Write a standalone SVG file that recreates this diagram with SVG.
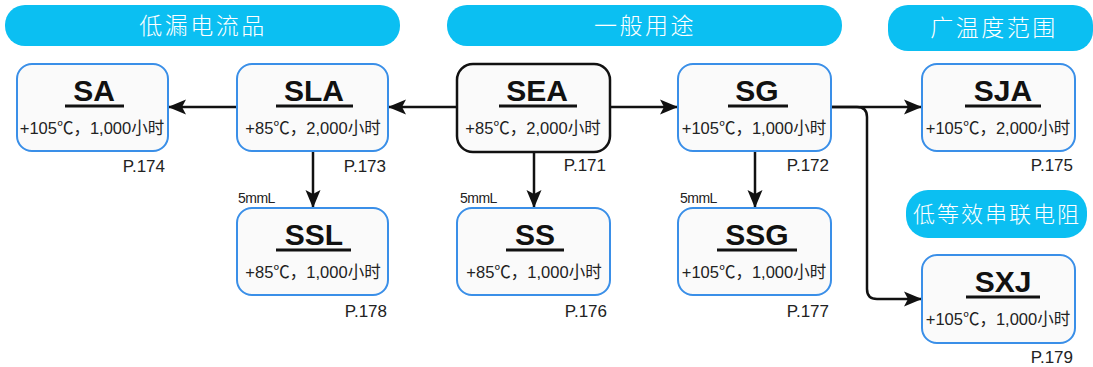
<svg xmlns="http://www.w3.org/2000/svg" width="1093" height="367" viewBox="0 0 1093 367">
<style>
.banner{fill:#0bbff2}
.btxt{fill:#fff;font-family:"Noto Sans CJK SC",sans-serif;font-weight:300;font-size:23px;letter-spacing:2.5px;text-anchor:middle}
.box{fill:#fafafa;stroke:#3a8fe8;stroke-width:2}
.boxk{fill:#fafafa;stroke:#111;stroke-width:2.5}
.title{font-family:"Liberation Sans",Arial,sans-serif;font-weight:bold;font-size:30px;fill:#111;text-anchor:middle}
.ul{stroke:#111;stroke-width:3}
.sub{font-family:"Liberation Sans","Noto Sans CJK SC",sans-serif;font-size:16.5px;fill:#222;text-anchor:middle}
.pg{font-family:"Liberation Sans",Arial,sans-serif;font-size:17px;fill:#222;text-anchor:end}
.mm{font-family:"Liberation Sans",Arial,sans-serif;font-size:14px;letter-spacing:-0.5px;fill:#222}
.con{fill:none;stroke:#111;stroke-width:2.5;marker-end:url(#arr)}
</style>
<defs>
<marker id="arr" markerUnits="userSpaceOnUse" markerWidth="18" markerHeight="16" refX="18" refY="8" orient="auto">
<path d="M0,0.5 L18,8 L0,15.5 L4,8 Z" fill="#111"/>
</marker>
</defs>

<g id="banner-low-leak"><rect class="banner" x="5" y="5" width="395" height="41" rx="20"/><text class="btxt" x="203" y="34">低漏电流品</text></g>
<g id="banner-general"><rect class="banner" x="447" y="5" width="395" height="41" rx="20"/><text class="btxt" x="645" y="34">一般用途</text></g>
<g id="banner-wide-temp"><rect class="banner" x="888" y="5" width="205" height="46" rx="20"/><text class="btxt" x="994" y="36">广温度范围</text></g>
<g id="banner-low-esr"><rect class="banner" x="906" y="190" width="181" height="48" rx="22"/><text class="btxt" style="font-size:22px;letter-spacing:2px" x="997" y="222">低等效串联电阻</text></g>

<g id="connectors">
<line class="con" x1="457" y1="107" x2="388" y2="107"/>
<line class="con" x1="237" y1="107" x2="168" y2="107"/>
<line class="con" x1="610" y1="107" x2="678" y2="107"/>
<line class="con" x1="831" y1="107" x2="922" y2="107"/>
<path class="con" d="M831,107 L857,107 Q867,107 867,117 L867,289 Q867,299 877,299 L922,299"/>
<line class="con" x1="313" y1="151" x2="313" y2="208"/>
<line class="con" x1="534" y1="152" x2="534" y2="208"/>
<line class="con" x1="755" y1="151" x2="755" y2="208"/>
</g>

<g id="node-SA"><rect class="box" x="17" y="64" width="151" height="87" rx="15"/><text class="title" x="94" y="101">SA</text><line class="ul" x1="65" y1="106" x2="124" y2="106"/><text class="sub" x="92" y="134">+105℃，1,000小时</text><text class="pg" x="165" y="172">P.174</text></g>
<g id="node-SLA"><rect class="box" x="237" y="64" width="151" height="87" rx="15"/><text class="title" x="314" y="101">SLA</text><line class="ul" x1="276" y1="106" x2="353" y2="106"/><text class="sub" x="313" y="134">+85℃，2,000小时</text><text class="pg" x="386" y="172">P.173</text></g>
<g id="node-SEA"><rect class="boxk" x="457" y="64" width="153" height="88" rx="16"/><text class="title" x="537" y="101">SEA</text><line class="ul" x1="499" y1="106" x2="577" y2="106"/><text class="sub" x="533" y="134">+85℃，2,000小时</text><text class="pg" x="606" y="171">P.171</text></g>
<g id="node-SG"><rect class="box" x="678" y="64" width="153" height="87" rx="15"/><text class="title" x="757" y="101">SG</text><line class="ul" x1="728" y1="106" x2="788" y2="106"/><text class="sub" x="754" y="134">+105℃，1,000小时</text><text class="pg" x="829" y="171">P.172</text></g>
<g id="node-SJA"><rect class="box" x="922" y="64" width="153" height="87" rx="15"/><text class="title" x="1003" y="101">SJA</text><line class="ul" x1="965" y1="106" x2="1041" y2="106"/><text class="sub" x="998" y="134">+105℃，2,000小时</text><text class="pg" x="1073" y="171">P.175</text></g>
<g id="node-SSL"><rect class="box" x="237" y="208" width="151" height="87" rx="15"/><text class="title" x="314" y="245">SSL</text><line class="ul" x1="276" y1="250" x2="351" y2="250"/><text class="sub" x="313" y="278">+85℃，1,000小时</text><text class="pg" x="387" y="317">P.178</text></g>
<g id="node-SS"><rect class="box" x="457" y="208" width="153" height="87" rx="15"/><text class="title" x="535" y="245">SS</text><line class="ul" x1="506" y1="250" x2="564" y2="250"/><text class="sub" x="534" y="278">+85℃，1,000小时</text><text class="pg" x="607" y="317">P.176</text></g>
<g id="node-SSG"><rect class="box" x="678" y="208" width="153" height="87" rx="15"/><text class="title" x="757" y="245">SSG</text><line class="ul" x1="717" y1="250" x2="797" y2="250"/><text class="sub" x="754" y="278">+105℃，1,000小时</text><text class="pg" x="829" y="317">P.177</text></g>
<g id="node-SXJ"><rect class="box" x="922" y="255" width="153" height="88" rx="15"/><text class="title" x="1003" y="292">SXJ</text><line class="ul" x1="966" y1="297" x2="1040" y2="297"/><text class="sub" x="998" y="325">+105℃，1,000小时</text><text class="pg" x="1073" y="363">P.179</text></g>

<g id="labels-5mmL">
<text class="mm" x="238" y="203">5mmL</text>
<text class="mm" x="460" y="203">5mmL</text>
<text class="mm" x="680" y="203">5mmL</text>
</g>
</svg>
